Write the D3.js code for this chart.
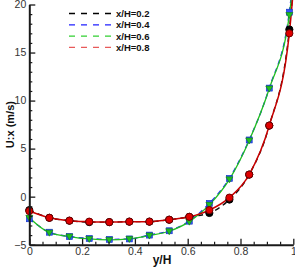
<!DOCTYPE html>
<html>
<head>
<meta charset="utf-8"/>
<script src="https://cdnjs.cloudflare.com/ajax/libs/d3/7.8.5/d3.min.js"></script>
<style>
body { margin: 0; background: #fff; }
text { font-family: "Liberation Sans", Arial, sans-serif; }
</style>
</head>
<body>
<script>
const svgW = 295, svgH = 268;

// sample positions y/H (markers)
const yH = [0, 0.076, 0.152, 0.227, 0.303, 0.379, 0.455, 0.530, 0.606, 0.682, 0.758, 0.833, 0.909, 0.985];
// U:x values per station
const u02 = [-1.4, -2.2, -2.5, -2.65, -2.65, -2.6, -2.6, -2.4, -2.1, -1.7, -0.3, 2.3, 7.4, 17.4];
const u04 = [-2.3, -3.7, -4.15, -4.35, -4.45, -4.4, -4.0, -3.55, -2.55, -0.7, 1.9, 5.9, 11.3, 19.2];
const u06 = [-2.2, -3.75, -4.15, -4.4, -4.5, -4.4, -4.05, -3.6, -2.6, -0.85, 1.8, 5.85, 11.25, 18.9];
const u08 = [-1.5, -2.2, -2.5, -2.6, -2.65, -2.6, -2.6, -2.4, -2.1, -1.4, -0.1, 2.3, 7.4, 17.0];
// curve values at the wall (y/H = 1), lines run off the top
const uWall = [21.8, 22.8, 22.4, 21.5];
const labels = ['x/H=0.2', 'x/H=0.4', 'x/H=0.6', 'x/H=0.8'];
const xTicks = [0, 0.2, 0.4, 0.6, 0.8, 1];
const yTicks = [-5, 0, 5, 10, 15, 20];

const svg = d3.select('body').append('svg')
  .attr('width', svgW)
  .attr('height', svgH);

const x = d3.scaleLinear().domain([0, 1]).range([29.3, 293.3]);
const y = d3.scaleLinear().domain([-5, 20]).range([244.7, 4.5]);

const series = [
  { vals: u02, color: '#000000', line: '#111', dash: '5,4', width: 1.4, mark: 'circle', fill: '#000', stroke: '#000' },
  { vals: u04, color: '#2020ff', line: '#2020ff', dash: '5,4', width: 1.4, mark: 'square', fill: '#3050ff', stroke: '#1030c0' },
  { vals: u06, color: '#30d030', line: '#20c020', dash: null, width: 1.3, mark: 'tri', fill: '#20c020', stroke: '#108010' },
  { vals: u08, color: '#e85a5a', line: '#c80000', dash: null, width: 1.5, mark: 'circle', fill: '#e00000', stroke: '#700000' }
];

const line = d3.line()
  .x(d => x(d[0]))
  .y(d => y(d[1]))
  .curve(d3.curveMonotoneX);

// curves
series.forEach((s, i) => {
  const pts = yH.map((v, j) => [v, s.vals[j]]).concat([[1, uWall[i]]]);
  svg.append('path')
    .attr('d', line(pts))
    .attr('fill', 'none')
    .attr('stroke', s.line)
    .attr('stroke-width', s.width)
    .attr('stroke-dasharray', s.dash);
});

// markers
series.forEach(s => {
  const g = svg.append('g');
  const pts = yH.map((v, j) => [v, s.vals[j]]);
  if (s.mark === 'circle') {
    g.selectAll('circle').data(pts).enter().append('circle')
      .attr('cx', d => x(d[0])).attr('cy', d => y(d[1])).attr('r', 3.6)
      .attr('fill', s.fill).attr('stroke', s.stroke).attr('stroke-width', 1);
  } else if (s.mark === 'square') {
    g.selectAll('rect').data(pts).enter().append('rect')
      .attr('x', d => x(d[0]) - 3).attr('y', d => y(d[1]) - 3)
      .attr('width', 6).attr('height', 6)
      .attr('fill', s.fill).attr('stroke', s.stroke).attr('stroke-width', 0.6);
  } else {
    g.selectAll('path').data(pts).enter().append('path')
      .attr('d', d => {
        const cx = x(d[0]), cy = y(d[1]);
        return `M${cx - 3.5},${cy - 2.5}L${cx + 3.5},${cy - 2.5}L${cx},${cy + 3.5}Z`;
      })
      .attr('fill', s.fill).attr('stroke', s.stroke).attr('stroke-width', 0.6);
  }
});

// axes
function styleAxis(g) {
  g.select('.domain').attr('stroke', '#1a1a1a').attr('stroke-width', 2);
  g.selectAll('.tick line').attr('stroke', '#1a1a1a').attr('stroke-width', 1.3);
  g.selectAll('.tick text').attr('fill', '#333').style('font-size', '10.5px');
}

const xMinor = d3.range(0, 1.001, 0.05).filter(v => Math.abs(v * 5 - Math.round(v * 5)) > 1e-6);
const yMinor = d3.range(-5, 20.001, 1).filter(v => v % 5 !== 0);

svg.append('g').attr('transform', `translate(0,${y(-5)})`)
  .call(d3.axisBottom(x).tickValues(xMinor).tickSize(-3).tickSizeOuter(0).tickFormat(''))
  .call(g => { g.select('.domain').remove(); g.selectAll('.tick line').attr('stroke', '#1a1a1a').attr('stroke-width', 1.2); });
svg.append('g').attr('transform', `translate(${x(0)},0)`)
  .call(d3.axisLeft(y).tickValues(yMinor).tickSize(-3).tickSizeOuter(0).tickFormat(''))
  .call(g => { g.select('.domain').remove(); g.selectAll('.tick line').attr('stroke', '#1a1a1a').attr('stroke-width', 1.2); });

svg.append('g').attr('transform', `translate(0,${y(-5)})`)
  .call(d3.axisBottom(x).tickValues(xTicks).tickSize(-6).tickSizeOuter(0).tickPadding(3)
    .tickFormat(d => (d === 0 || d === 1) ? String(d) : d.toFixed(1)))
  .call(styleAxis);
svg.append('g').attr('transform', `translate(${x(0)},0)`)
  .call(d3.axisLeft(y).tickValues(yTicks).tickSize(-6).tickSizeOuter(0).tickPadding(3))
  .call(styleAxis);

// axis titles
svg.append('text')
  .attr('x', 162).attr('y', 264)
  .attr('text-anchor', 'middle')
  .style('font-size', '12px').style('font-weight', 'bold').attr('fill', '#111')
  .text('y/H');
svg.append('text')
  .attr('transform', `translate(14,${(y(20) + y(-5)) / 2}) rotate(-90)`)
  .attr('text-anchor', 'middle')
  .style('font-size', '11px').style('font-weight', 'bold').attr('fill', '#111')
  .text('U:x (m/s)');

// legend
const leg = svg.append('g').attr('transform', 'translate(69,13.5)');
series.forEach((s, i) => {
  const row = leg.append('g').attr('transform', `translate(0,${i * 11.3})`);
  row.append('line')
    .attr('x1', 0).attr('x2', 43).attr('y1', 0).attr('y2', 0)
    .attr('stroke', s.color).attr('stroke-width', 1.3)
    .attr('stroke-dasharray', '6,6');
  row.append('text')
    .attr('x', 47).attr('y', 3.5)
    .style('font-size', '9.5px').style('font-weight', 'bold').attr('fill', '#111')
    .text(labels[i]);
});
</script>
</body>
</html>
